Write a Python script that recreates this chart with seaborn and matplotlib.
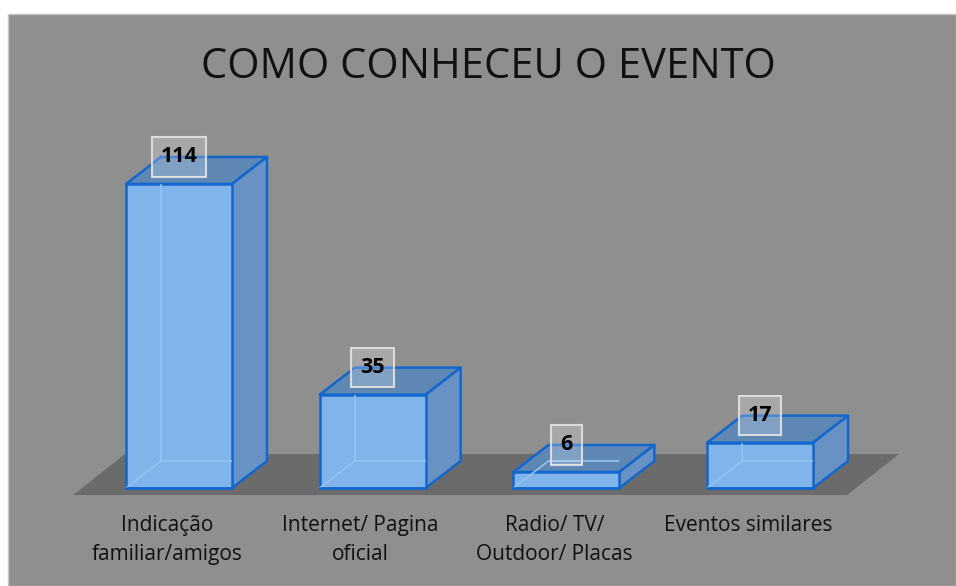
import numpy as np
import pandas as pd
import matplotlib
matplotlib.use("Agg")
import matplotlib.pyplot as plt
from matplotlib.patches import Polygon, Rectangle
import seaborn as sns

categories = ["Indicação\nfamiliar/amigos", "Internet/ Pagina\noficial",
              "Radio/ TV/\nOutdoor/ Placas", "Eventos similares"]
values = [114, 35, 6, 17]
title = "COMO CONHECEU O EVENTO"

BG = "#8f8f8f"
FLOOR = "#6b6b6b"
FRONT = "#80b4eb"
SIDE = "#6892c4"
TOP = "#5e87b4"
EDGE = "#1267cf"
HIDDEN = "#94c4f5"

DX, DY = 35, 27          # bar depth, pixels
FDX, FDY = 52, 41        # floor depth, pixels

sns.set_theme(style="white")
plt.rcParams["font.family"] = ["Open Sans", "DejaVu Sans"]

fig = plt.figure(figsize=(9.56, 5.86), dpi=100)
fig.patch.set_facecolor("white")
fig.patches.append(Rectangle((8 / 956, 0), 1 - 8 / 956, 572 / 586,
                             transform=fig.transFigure, facecolor=BG,
                             edgecolor="#c4c4c4", lw=1, zorder=-1))

ax = fig.add_axes([60 / 956, 86 / 586, 840 / 956, 380 / 586])
ax.set_facecolor("none")

df = pd.DataFrame({"cat": categories, "val": values})
sns.barplot(data=df, x="cat", y="val", ax=ax, width=0.547, color=FRONT,
            saturation=1, edgecolor=EDGE, linewidth=1.8, zorder=5)
bars = list(ax.patches)

ax.set_xlim((60 - 179) / 193.7, (900 - 179) / 193.7)
ax.set_ylim((488 - 500) / 2.667, (488 - 120) / 2.667)
ax.set_axis_off()

# pixel -> data scale
p0 = ax.transData.transform((0, 0))
p1 = ax.transData.transform((1, 1))
sx, sy = p1[0] - p0[0], p1[1] - p0[1]
dx, dy = DX / sx, DY / sy

# floor
fy = -7 / sy
fx0, fx1 = -0.5 - 0.047, len(values) - 1 + 0.5 - 0.051
ax.add_patch(Polygon([(fx0, fy), (fx1, fy), (fx1 + FDX / sx, fy + FDY / sy),
                      (fx0 + FDX / sx, fy + FDY / sy)], closed=True,
                     facecolor=FLOOR, edgecolor="none", zorder=1))

for bar in bars:
    x0 = bar.get_x()
    x1 = x0 + bar.get_width()
    y0 = bar.get_y()
    y1 = y0 + bar.get_height()
    top = Polygon([(x0, y1), (x1, y1), (x1 + dx, y1 + dy), (x0 + dx, y1 + dy)],
                  closed=True, facecolor=TOP, edgecolor=EDGE, lw=1.8,
                  joinstyle="round", zorder=4)
    side = Polygon([(x1, y0), (x1 + dx, y0 + dy), (x1 + dx, y1 + dy), (x1, y1)],
                   closed=True, facecolor=SIDE, edgecolor=EDGE, lw=1.8,
                   joinstyle="round", zorder=4)
    ax.add_patch(top)
    ax.add_patch(side)
    # hidden edges seen through the translucent box
    kw = dict(color=HIDDEN, lw=1.2, zorder=6, solid_capstyle="butt")
    ax.plot([x0, x0 + dx], [y0, y0 + dy], **kw)
    ax.plot([x0 + dx, x1], [y0 + dy, y0 + dy], **kw)
    if y1 > y0 + dy:
        ax.plot([x0 + dx, x0 + dx], [y0 + dy, y1], **kw)
    ax.plot([x0, x1], [y0, y0], color=EDGE, lw=1.8, zorder=7)

# value labels
for i, v in enumerate(values):
    ax.annotate(str(v), xy=(i, v), xytext=(0, DY), textcoords="offset pixels",
                ha="center", va="center", fontsize=15.5, fontweight="bold",
                color="black", zorder=10,
                bbox=dict(boxstyle="square,pad=0.42", fc=(1, 1, 1, 0.22),
                          ec=(0.88, 0.88, 0.88, 0.95), lw=1.5))

# category labels
for i, c in enumerate(categories):
    ax.annotate(c, xy=(i, 0), xytext=(-12, -27), textcoords="offset pixels",
                ha="center", va="top", multialignment="center",
                fontsize=15, color="#111111", linespacing=1.5)

fig.text(488 / 956, 1 - 67 / 586, title, ha="center", va="center",
         fontsize=30, color="#111111")

fig.savefig("out.png", dpi=100)
